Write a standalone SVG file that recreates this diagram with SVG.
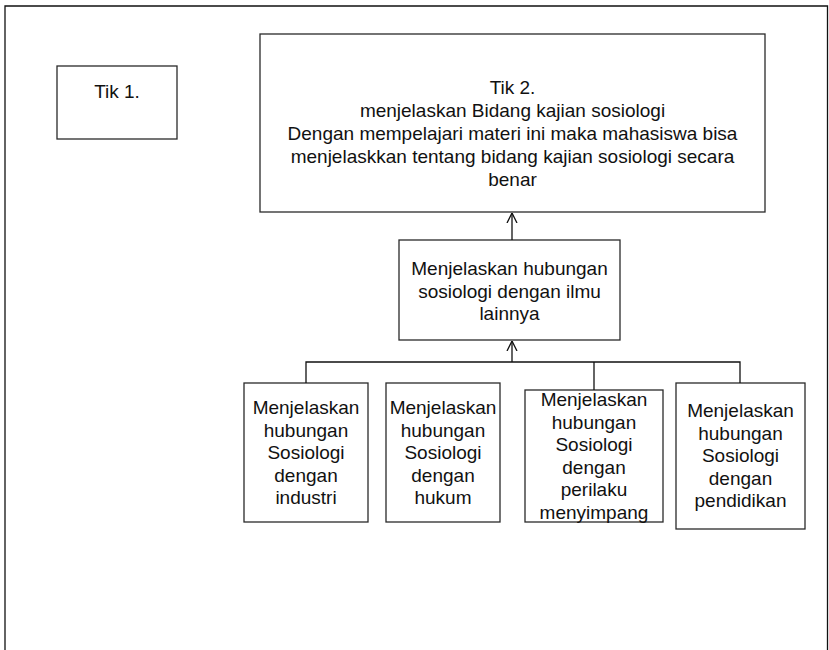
<svg xmlns="http://www.w3.org/2000/svg" width="829" height="650" viewBox="0 0 829 650">
<style>
.box{fill:#fff;stroke:#2a2a2a;stroke-width:1.3}
.ln{fill:none;stroke:#111;stroke-width:1.3}
text{font-family:"Liberation Sans",Arial,sans-serif;font-size:19px;fill:#111;text-anchor:middle}
</style>
<defs>
<marker id="arr" viewBox="0 0 10 10" refX="10" refY="5" markerWidth="10" markerHeight="12" markerUnits="userSpaceOnUse" orient="auto">
<path d="M0,0 L10,5 L0,10" fill="none" stroke="#111" stroke-width="1.3"/>
</marker>
</defs>
<rect width="829" height="650" fill="#fff"/>
<path class="ln" d="M5,650 V6 H827.5 V650" stroke="#444"/>
<g id="tik1">
<rect class="box" x="57" y="66" width="120" height="73"/>
<text x="117" y="98">Tik 1.</text>
</g>
<g id="tik2">
<rect class="box" x="260" y="34" width="505" height="178"/>
<text x="512.5" y="94">Tik 2.</text>
<text x="512.5" y="117">menjelaskan Bidang kajian sosiologi</text>
<text x="512.5" y="140">Dengan mempelajari materi ini maka mahasiswa bisa</text>
<text x="512.5" y="163">menjelaskkan tentang bidang kajian sosiologi secara</text>
<text x="512.5" y="186">benar</text>
</g>
<g id="hubungan">
<rect class="box" x="399" y="240" width="221" height="100"/>
<text x="509.5" y="275">Menjelaskan hubungan</text>
<text x="509.5" y="297.5">sosiologi dengan ilmu</text>
<text x="509.5" y="320">lainnya</text>
</g>
<g id="industri">
<rect class="box" x="244" y="383" width="124" height="139"/>
<text x="306" y="414">Menjelaskan</text>
<text x="306" y="436.5">hubungan</text>
<text x="306" y="459">Sosiologi</text>
<text x="306" y="481.5">dengan</text>
<text x="306" y="504">industri</text>
</g>
<g id="hukum">
<rect class="box" x="386" y="383" width="114" height="139"/>
<text x="443" y="414">Menjelaskan</text>
<text x="443" y="436.5">hubungan</text>
<text x="443" y="459">Sosiologi</text>
<text x="443" y="481.5">dengan</text>
<text x="443" y="504">hukum</text>
</g>
<g id="perilaku">
<rect class="box" x="525" y="390" width="138" height="132"/>
<text x="594" y="406">Menjelaskan</text>
<text x="594" y="428.5">hubungan</text>
<text x="594" y="451">Sosiologi</text>
<text x="594" y="473.5">dengan</text>
<text x="594" y="496">perilaku</text>
<text x="594" y="518.5">menyimpang</text>
</g>
<g id="pendidikan">
<rect class="box" x="676" y="383" width="129" height="146"/>
<text x="740.5" y="417">Menjelaskan</text>
<text x="740.5" y="439.5">hubungan</text>
<text x="740.5" y="462">Sosiologi</text>
<text x="740.5" y="484.5">dengan</text>
<text x="740.5" y="507">pendidikan</text>
</g>
<g id="connectors">
<path class="ln" d="M306,383 V362 H740 V383"/>
<path class="ln" d="M594,362 V390"/>
<path class="ln" d="M512,362 V341" marker-end="url(#arr)"/>
<path class="ln" d="M512,240 V213" marker-end="url(#arr)"/>
</g>
</svg>
